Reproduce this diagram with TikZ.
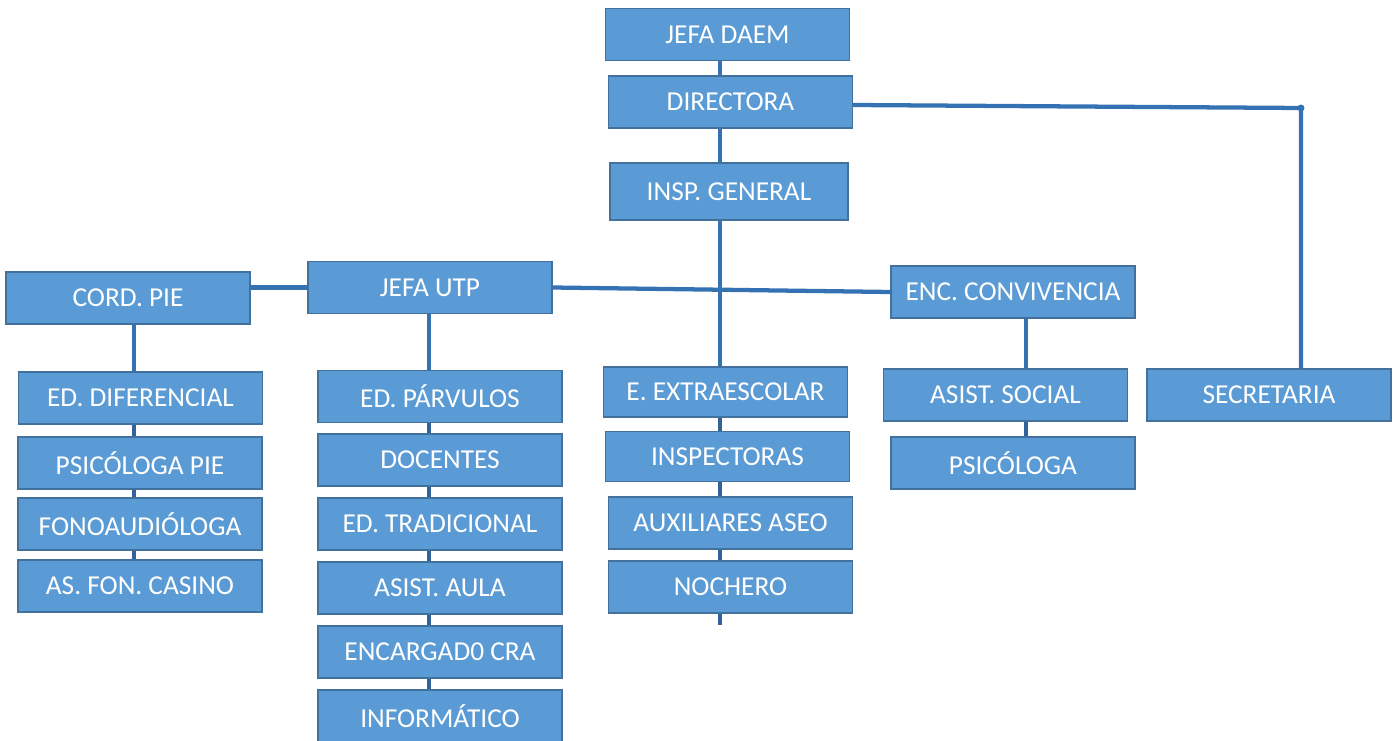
\documentclass[tikz,border=0pt]{standalone}
\usepackage{fontspec}
\setmainfont{Carlito}
\usepackage{xcolor}
\definecolor{cajafondo}{HTML}{5B9BD5}
\definecolor{cajaborde}{HTML}{41719C}
\definecolor{linea}{HTML}{3572B3}
\definecolor{lineaosc}{HTML}{31639A}
\usepackage{tikz}
\usetikzlibrary{calc,positioning}
\tikzset{
    cargo/.style={
    rectangle,draw=cajaborde,fill=cajafondo,line width=0.9pt,text=white,
    minimum width=183pt,minimum height=39pt,inner sep=0pt,
    font=\fontsize{20.5}{24}\selectfont
    },
  line/.style={draw=linea, line width=3.2pt},
  lstack/.style={draw=lineaosc, line width=3pt}
}
\begin{document}
\begin{tikzpicture}[x=0.75pt,y=-0.75pt]
    \useasboundingbox (0,0) rectangle (1394,741);

    % cabeza
    \node[cargo] (daem) at (727.5,34.5) {JEFA DAEM};
    \node[cargo] (dir) at (730.5,102) {DIRECTORA};
    \node[cargo,minimum width=178.5pt,minimum height=42.75pt] (insp) at (729,191.5) {INSP. GENERAL};

    % segundo nivel
    \node[cargo] (pie) at (128,298) {CORD. PIE};
    \node[cargo] (utp) at (430,287.5) {JEFA UTP};
    \node[cargo] (conv) at (1013,292) {ENC. CONVIVENCIA};
    \node[cargo] (secr) at (1269,395) {SECRETARIA};

    % columna PIE
    \node[cargo] (dif) at (140.5,398) {ED. DIFERENCIAL};
    \node[cargo] (psipie) at (140,463) {PSICÓLOGA PIE};
    \node[cargo] (fono) at (140,524) {FONOAUDIÓLOGA};
    \node[cargo] (casino) at (140,586) {AS. FON. CASINO};

    % columna UTP
    \node[cargo] (parv) at (440,396.5) {ED. PÁRVULOS};
    \node[cargo] (doc) at (440,460) {DOCENTES};
    \node[cargo] (trad) at (440,524) {ED. TRADICIONAL};
    \node[cargo] (aula) at (440,588) {ASIST. AULA};
    \node[cargo] (cra) at (440,652) {ENCARGAD0 CRA};
    \node[cargo] (info) at (440,716) {INFORMÁTICO};

    % columna inspectoria
    \node[cargo,minimum height=37.5pt] (extra) at (725.5,392) {E. EXTRAESCOLAR};
    \node[cargo,minimum height=37pt] (insps) at (727.5,456.5) {INSPECTORAS};
    \node[cargo] (aseo) at (730.5,523) {AUXILIARES ASEO};
    \node[cargo] (noch) at (730.5,587) {NOCHERO};

    % columna convivencia
    \node[cargo] (asist) at (1005.5,395) {ASIST. SOCIAL};
    \node[cargo] (psico) at (1013,463) {PSICÓLOGA};

    \coordinate (eje) at (720,0);
    \coordinate (ejepie) at (134,0);
    \coordinate (ejeutp) at (429,0);
    \coordinate (ejeconv) at (1026,0);
    \coordinate (esq) at (1301,108);
    \coordinate (fin) at (720,625);

    \begin{scope} [every path/.style=line]
      \path (daem.south -| eje) -- (dir.north -| eje);
      \path (dir.south -| eje) -- (insp.north -| eje);
      \path (insp.south -| eje) -- (extra.north -| eje);
      \path ($(dir.east)+(0,3)$) -- (esq) -- (secr.north -| esq);
      \path (utp.east) -- (conv.west);
      \path (pie.east |- utp.west) -- (utp.west);
      \path (pie.south -| ejepie) -- (dif.north -| ejepie);
      \path (utp.south -| ejeutp) -- (parv.north -| ejeutp);
      \path (conv.south -| ejeconv) -- (asist.north -| ejeconv);
    \end{scope}
    \fill[linea] (esq) circle (2.6pt);

    \begin{scope} [every path/.style=lstack]
      \path (dif.south -| ejepie) -- (psipie.north -| ejepie);
      \path (psipie.south -| ejepie) -- (fono.north -| ejepie);
      \path (fono.south -| ejepie) -- (casino.north -| ejepie);
      \path (parv.south -| ejeutp) -- (doc.north -| ejeutp);
      \path (doc.south -| ejeutp) -- (trad.north -| ejeutp);
      \path (trad.south -| ejeutp) -- (aula.north -| ejeutp);
      \path (aula.south -| ejeutp) -- (cra.north -| ejeutp);
      \path (cra.south -| ejeutp) -- (info.north -| ejeutp);
      \path (extra.south -| eje) -- (insps.north -| eje);
      \path (insps.south -| eje) -- (aseo.north -| eje);
      \path (aseo.south -| eje) -- (noch.north -| eje);
      \path (noch.south -| eje) -- (fin);
      \path (asist.south -| ejeconv) -- (psico.north -| ejeconv);
    \end{scope}
  \end{tikzpicture}
\end{document}
